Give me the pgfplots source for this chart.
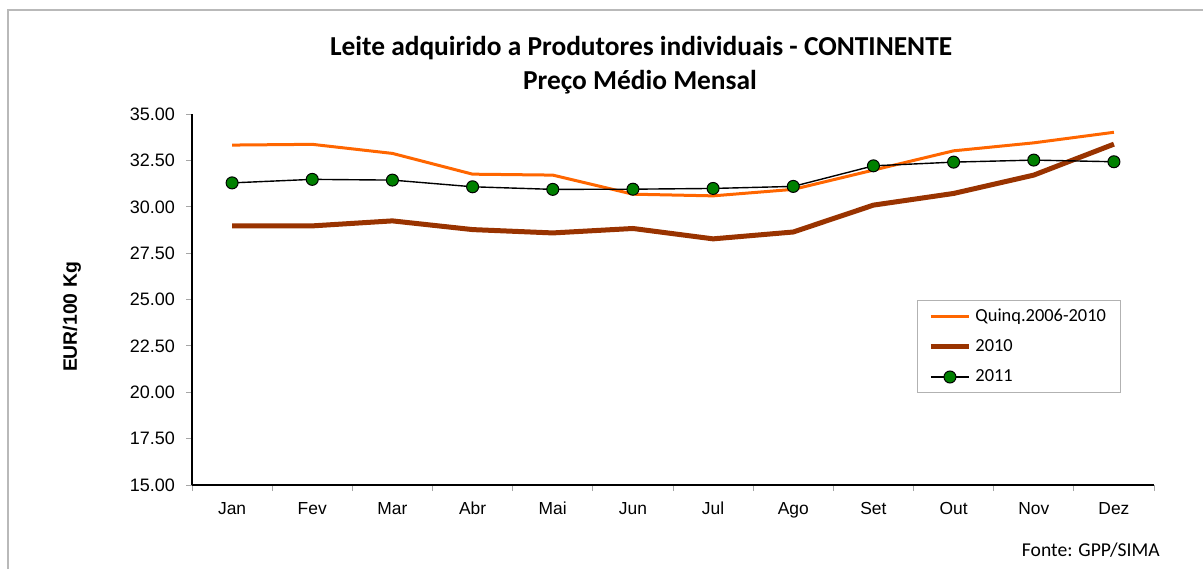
\documentclass[border=0pt]{standalone}
\usepackage{pgfplots}
\pgfplotsset{compat=1.18}
\usepackage{fontspec}
\setmainfont{Carlito}
\newfontfamily\arial{Liberation Sans}

\definecolor{quinq}{HTML}{FF6600}
\definecolor{ano2010}{HTML}{993300}
\definecolor{ano2011}{HTML}{008000}

% 1 px of the reference = 0.5pt
\begin{document}
\begin{tikzpicture}
\path[use as bounding box] (0pt,0pt) rectangle (601.5pt,284.5pt);
% frame of the chart area (cropped)
\draw[gray!55, line width=1pt] (4pt,0pt) -- (4pt,279.5pt) -- (601.5pt,279.5pt);

\node[font=\bfseries\fontsize{13.7}{15}\selectfont] at (320.5pt,260.5pt) {Leite adquirido a Produtores individuais - CONTINENTE};
\node[font=\bfseries\fontsize{13.7}{15}\selectfont] at (320pt,243.5pt) {Preço Médio Mensal};
\node[font=\arial\bfseries\fontsize{9.7}{11}\selectfont, rotate=90] at (36pt,126pt) {EUR/100 Kg};
\node[anchor=east, inner sep=0pt, font=\fontsize{9.8}{11}\selectfont] at (580pt,9.5pt) {Fonte: GPP/SIMA};

\begin{axis}[
  at={(96pt,42pt)}, anchor=south west,
  scale only axis,
  width=481pt, height=185.35pt,
  xmin=0.5, xmax=12.5,
  ymin=15, ymax=35,
  axis x line*=bottom, axis y line*=left,
  axis line style={black, line width=0.8pt},
  tick align=outside,
  major tick length=3pt,
  tick style={gray!70, line width=0.5pt},
  xtick={0.5,1.5,...,12.5},
  xticklabels={Jan,Fev,Mar,Abr,Mai,Jun,Jul,Ago,Set,Out,Nov,Dez,{}},
  x tick label style={xshift=20.04pt, font=\arial\fontsize{8.7}{10}\selectfont,
    text height=6.3pt, text depth=1.8pt},
  xticklabel shift=2pt,
  ytick={15,17.5,...,35},
  y tick label style={font=\arial\fontsize{9}{10}\selectfont},
  /pgf/number format/assume math mode=true,
  yticklabel style={/pgf/number format/.cd, fixed, fixed zerofill, precision=2},
  yticklabel shift=2pt,
  legend style={at={(0.7536,0.499)}, anchor=north west,
    draw=gray!60, line width=0.5pt,
    font=\fontsize{9.2}{11}\selectfont,
    inner xsep=5.5pt, inner ysep=2pt,
    row sep=3.6pt},
  legend cell align=left,
  legend image code/.code={
    \draw[mark repeat=2, mark phase=2] plot coordinates {(0pt,0pt) (9.5pt,0pt) (19pt,0pt)};},
]
\addplot[quinq, line width=1.5pt] coordinates {
 (1,33.34) (2,33.38) (3,32.89) (4,31.77) (5,31.72) (6,30.69)
 (7,30.60) (8,30.95) (9,31.99) (10,33.03) (11,33.46) (12,34.03)};
\addlegendentry{Quinq.2006-2010}
\addplot[ano2010, line width=2.5pt] coordinates {
 (1,28.98) (2,28.98) (3,29.25) (4,28.78) (5,28.60) (6,28.84)
 (7,28.28) (8,28.65) (9,30.10) (10,30.73) (11,31.72) (12,33.39)};
\addlegendentry{2010}
\addplot[black, line width=0.7pt, mark=*, mark size=3pt,
  mark options={fill=ano2011, draw=black, line width=0.5pt}] coordinates {
 (1,31.30) (2,31.49) (3,31.45) (4,31.09) (5,30.95) (6,30.96)
 (7,31.00) (8,31.11) (9,32.22) (10,32.42) (11,32.53) (12,32.44)};
\addlegendentry{2011}
\end{axis}
\end{tikzpicture}
\end{document}
